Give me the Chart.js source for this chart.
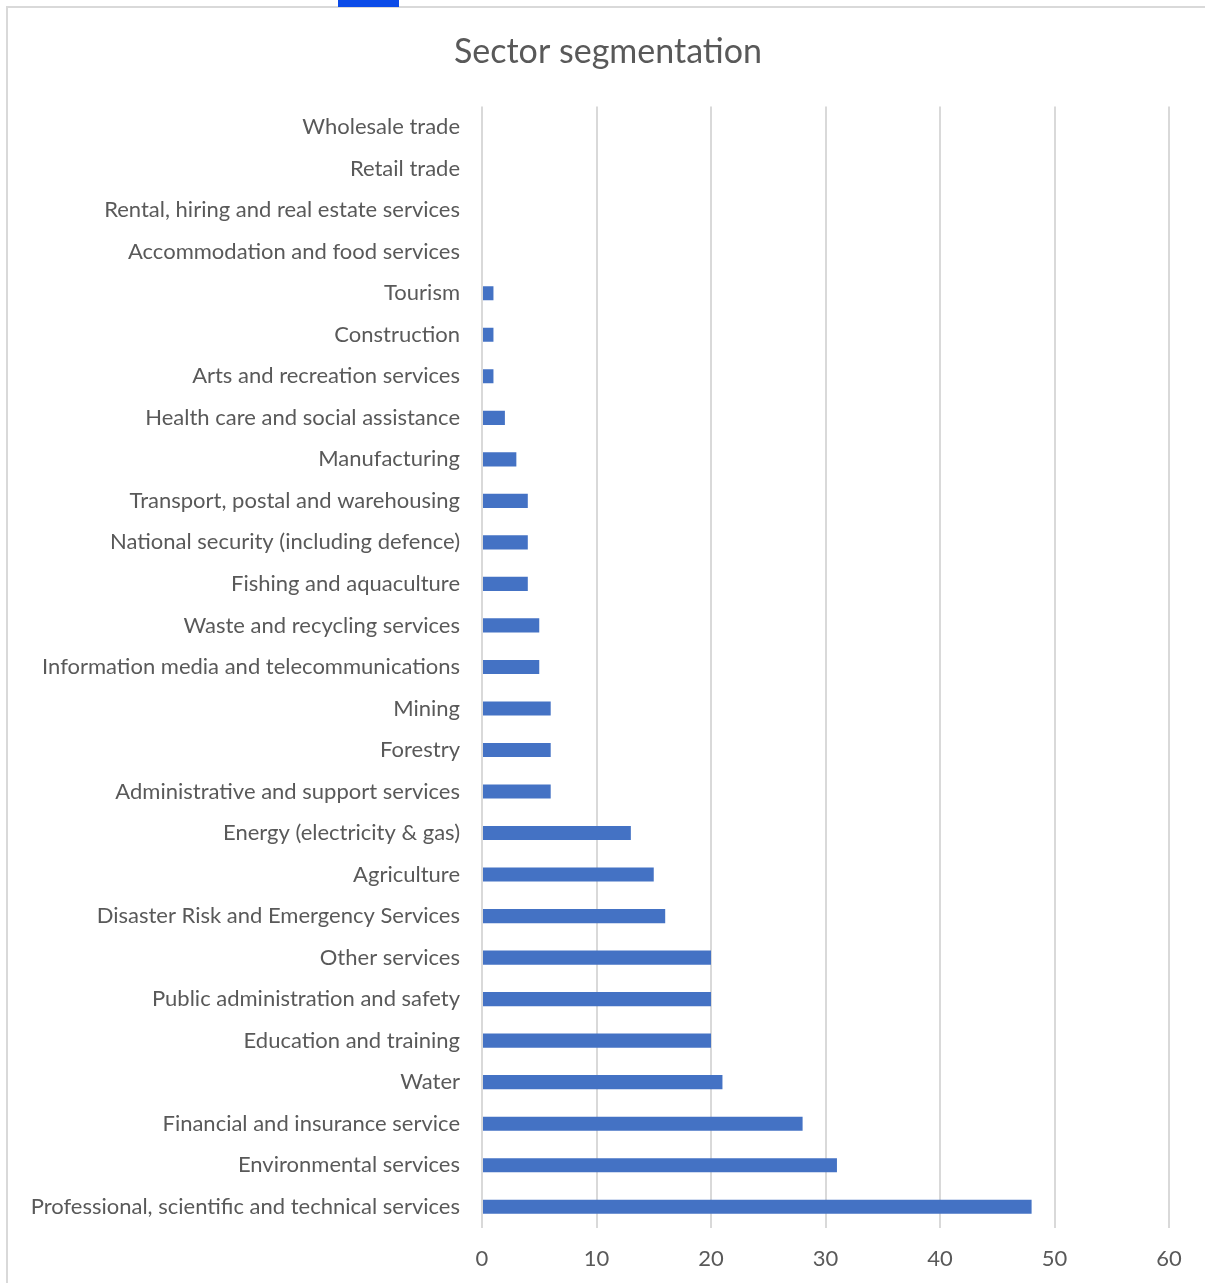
<!DOCTYPE html>
<html>
<head>
<meta charset="utf-8">
<script src="https://cdn.jsdelivr.net/npm/chart.js@4"></script>
<style>
  html, body { margin: 0; padding: 0; background: #fff; overflow: hidden; }
  #wrap { position: relative; width: 1205px; height: 1283px; }
  #frame { position: absolute; left: 6px; top: 6px; width: 1300px; height: 1400px;
           border-left: 2px solid #d9d9d9; border-top: 2px solid #d9d9d9; }
  #tab { position: absolute; left: 338px; top: 0; width: 61px; height: 7px; background: #0b4be8; }
  canvas { position: absolute; left: 0; top: 0; }
</style>
</head>
<body>
<div id="wrap">
  <div id="frame"></div>
  <div id="tab"></div>
  <canvas id="sectors" width="1205" height="1283"></canvas>
</div>
<script>
const sectorNames = [
  "Wholesale trade",
  "Retail trade",
  "Rental, hiring and real estate services",
  "Accommodation and food services",
  "Tourism",
  "Construction",
  "Arts and recreation services",
  "Health care and social assistance",
  "Manufacturing",
  "Transport, postal and warehousing",
  "National security (including defence)",
  "Fishing and aquaculture",
  "Waste and recycling services",
  "Information media and telecommunications",
  "Mining",
  "Forestry",
  "Administrative and support services",
  "Energy (electricity & gas)",
  "Agriculture",
  "Disaster Risk and Emergency Services",
  "Other services",
  "Public administration and safety",
  "Education and training",
  "Water",
  "Financial and insurance service",
  "Environmental services",
  "Professional, scientific and technical services"
];
const sectorCounts = [0, 0, 0, 0, 1, 1, 1, 2, 3, 4, 4, 4, 5, 5, 6, 6, 6, 13, 15, 16, 20, 20, 20, 21, 28, 31, 48];
const xTicks = [0, 10, 20, 30, 40, 50, 60];

const textGrey = "#595959";
const gridGrey = "#d9d9d9";
const fontName = "Lato, 'Open Sans', sans-serif";

let chart = new Chart(document.getElementById("sectors").getContext("2d"), {
  type: "bar",
  data: {
    labels: sectorNames,
    datasets: [{
      data: sectorCounts,
      backgroundColor: "#4472c4",
      borderWidth: 0,
      categoryPercentage: 1,
      barPercentage: 0.34,
    }],
  },
  options: {
    indexAxis: "y",
    responsive: false,
    animation: false,
    // left padding keeps the title centred on the framed area
    layout: { padding: { left: 11, right: 0, top: 0, bottom: 0 } },
    plugins: {
      legend: { display: false },
      tooltip: { enabled: false },
      title: {
        display: true,
        text: "Sector segmentation",
        color: textGrey,
        font: { family: fontName, size: 34, weight: "normal" },
        padding: { top: 31.6, bottom: 34 },
      },
    },
    scales: {
      x: {
        min: xTicks[0],
        max: xTicks[xTicks.length - 1],
        afterBuildTicks: (scale) => {
          scale.ticks = xTicks.map((v) => ({ value: v }));
        },
        afterFit: (scale) => { scale.height = 55.5; },
        grid: { color: gridGrey, lineWidth: 2, drawTicks: false },
        border: { display: false },
        ticks: {
          color: textGrey,
          padding: 18.5,
          font: { family: fontName, size: 22 },
        },
      },
      y: {
        afterFit: (scale) => { scale.width = 471; },
        grid: { display: false, drawTicks: false },
        border: { display: false },
        ticks: {
          color: textGrey,
          padding: 22,
          autoSkip: false,
          font: { family: fontName, size: 22 },
        },
      },
      // empty right-hand axis, only reserves the space right of the plot
      spacer: {
        type: "linear",
        position: "right",
        axis: "y",
        display: true,
        afterFit: (scale) => { scale.width = 36; },
        grid: { display: false, drawTicks: false },
        border: { display: false },
        ticks: { display: false },
      },
    },
  },
});
</script>
</body>
</html>
